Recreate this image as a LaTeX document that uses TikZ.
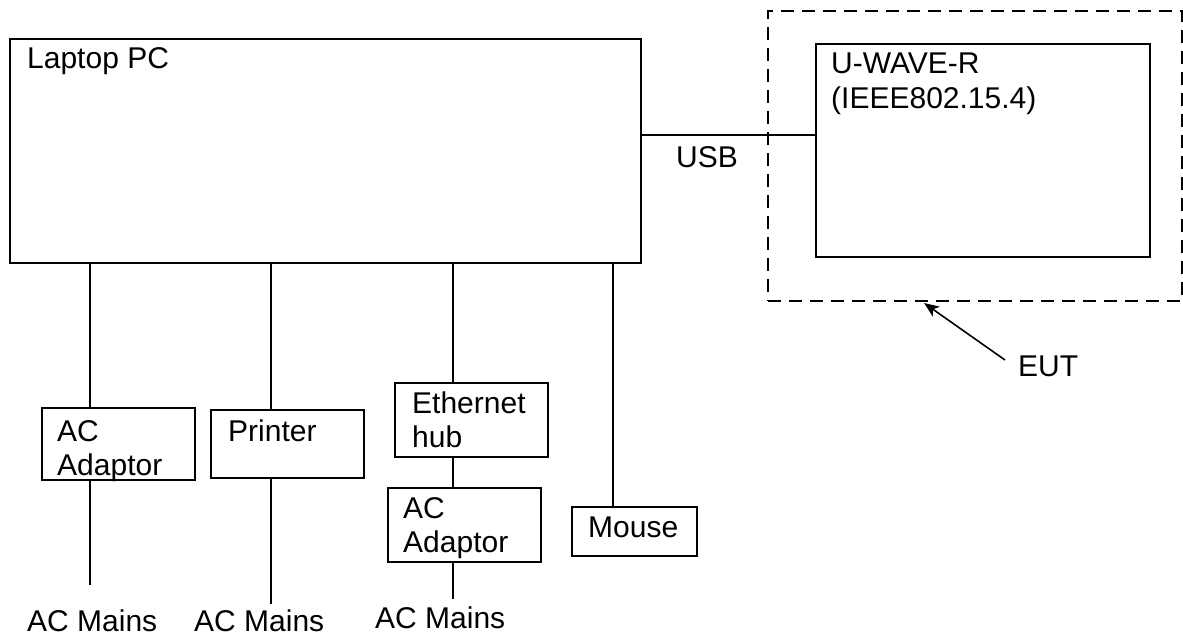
\documentclass[tikz,border=0pt]{standalone}
\usepackage{fontspec}
\setmainfont{Liberation Sans}
\usetikzlibrary{arrows.meta,positioning,calc}

\begin{document}
\begin{tikzpicture}[x=1pt,y=-1pt,
      unit/.style={draw,line width=1.6pt,anchor=north west,inner sep=0pt},
      tag/.style={anchor=base west,inner sep=0pt,align=left,font=\fontsize{30}{34}\selectfont},
      wire/.style={line width=1.6pt},
      eutline/.style={draw,line width=2.2pt,dash pattern=on 13pt off 8pt},
      pointer/.style={-{Stealth[length=15pt,width=12pt,inset=4pt]},line width=1.6pt}]
    \useasboundingbox (0,0) rectangle (1183,636);
    % equipment boxes
    \node[unit,minimum width=631,minimum height=224] (pc) at (9,38) {};
    \node[unit,eutline,minimum width=414,minimum height=290] (eutbox) at (767,10) {};
    \node[unit,minimum width=334,minimum height=213] (uwave) at (815,43) {};
    \node[unit,minimum width=153,minimum height=72] (adp1) at (41,407) {};
    \node[unit,minimum width=153,minimum height=68] (prn) at (210,409) {};
    \node[unit,minimum width=153,minimum height=74] (hub) at (394,382) {};
    \node[unit,minimum width=153,minimum height=74] (adp2) at (387,487) {};
    \node[unit,minimum width=125,minimum height=49] (mouse) at (571,506) {};
    % labels in the boxes (base = last line)
    \node[tag] (pctxt) at ([shift={(18,31)}]pc.north west) {Laptop PC};
    \node[tag] (uwavetxt) at ([shift={(16,66)}]uwave.north west) {U-WAVE-R\\[1pt](IEEE802.15.4)};
    \node[tag] (adp1txt) at ([shift={(16,68)}]adp1.north west) {AC\\Adaptor};
    \node[tag] (prntxt) at ([shift={(18,32)}]prn.north west) {Printer};
    \node[tag] (hubtxt) at ([shift={(18,65)}]hub.north west) {Ethernet\\hub};
    \node[tag] (adp2txt) at ([shift={(16,65)}]adp2.north west) {AC\\Adaptor};
    \node[tag] (mousetxt) at ([shift={(17,31)}]mouse.north west) {Mouse};
    % free labels
    \node[tag] (usb) at (676,168) {USB};
    \node[tag] (eut) at (1018,376) {EUT};
    \node[tag] (mains1) at (27,631) {AC Mains};
    \node[tag] (mains2) at (194,631) {AC Mains};
    \node[tag] (mains3) at (375,628) {AC Mains};
    % cable ends
    \coordinate (usbrow) at (0,135);
    \coordinate (end1) at (90,585);
    \coordinate (end2) at (271,604);
    \coordinate (end3) at (452.7,599);
    \coordinate (end4) at (613,0);
    \coordinate (eutpt) at (924,303);
    % cables
    \draw[wire] (pc.east |- usbrow) -- (uwave.west |- usbrow);
    \draw[wire] (pc.south -| end1) -- (adp1.north -| end1);
    \draw[wire] (adp1.south -| end1) -- (end1);
    \draw[wire] (pc.south -| end2) -- (prn.north -| end2);
    \draw[wire] (prn.south -| end2) -- (end2);
    \draw[wire] (pc.south -| end3) -- (hub.north -| end3);
    \draw[wire] (hub.south -| end3) -- (adp2.north -| end3);
    \draw[wire] (adp2.south -| end3) -- (end3);
    \draw[wire] (pc.south -| end4) -- (mouse.north -| end4);
    \draw[pointer] ([shift={(-13,-16)}]eut.base west) -- (eutpt);
\end{tikzpicture}
\end{document}
